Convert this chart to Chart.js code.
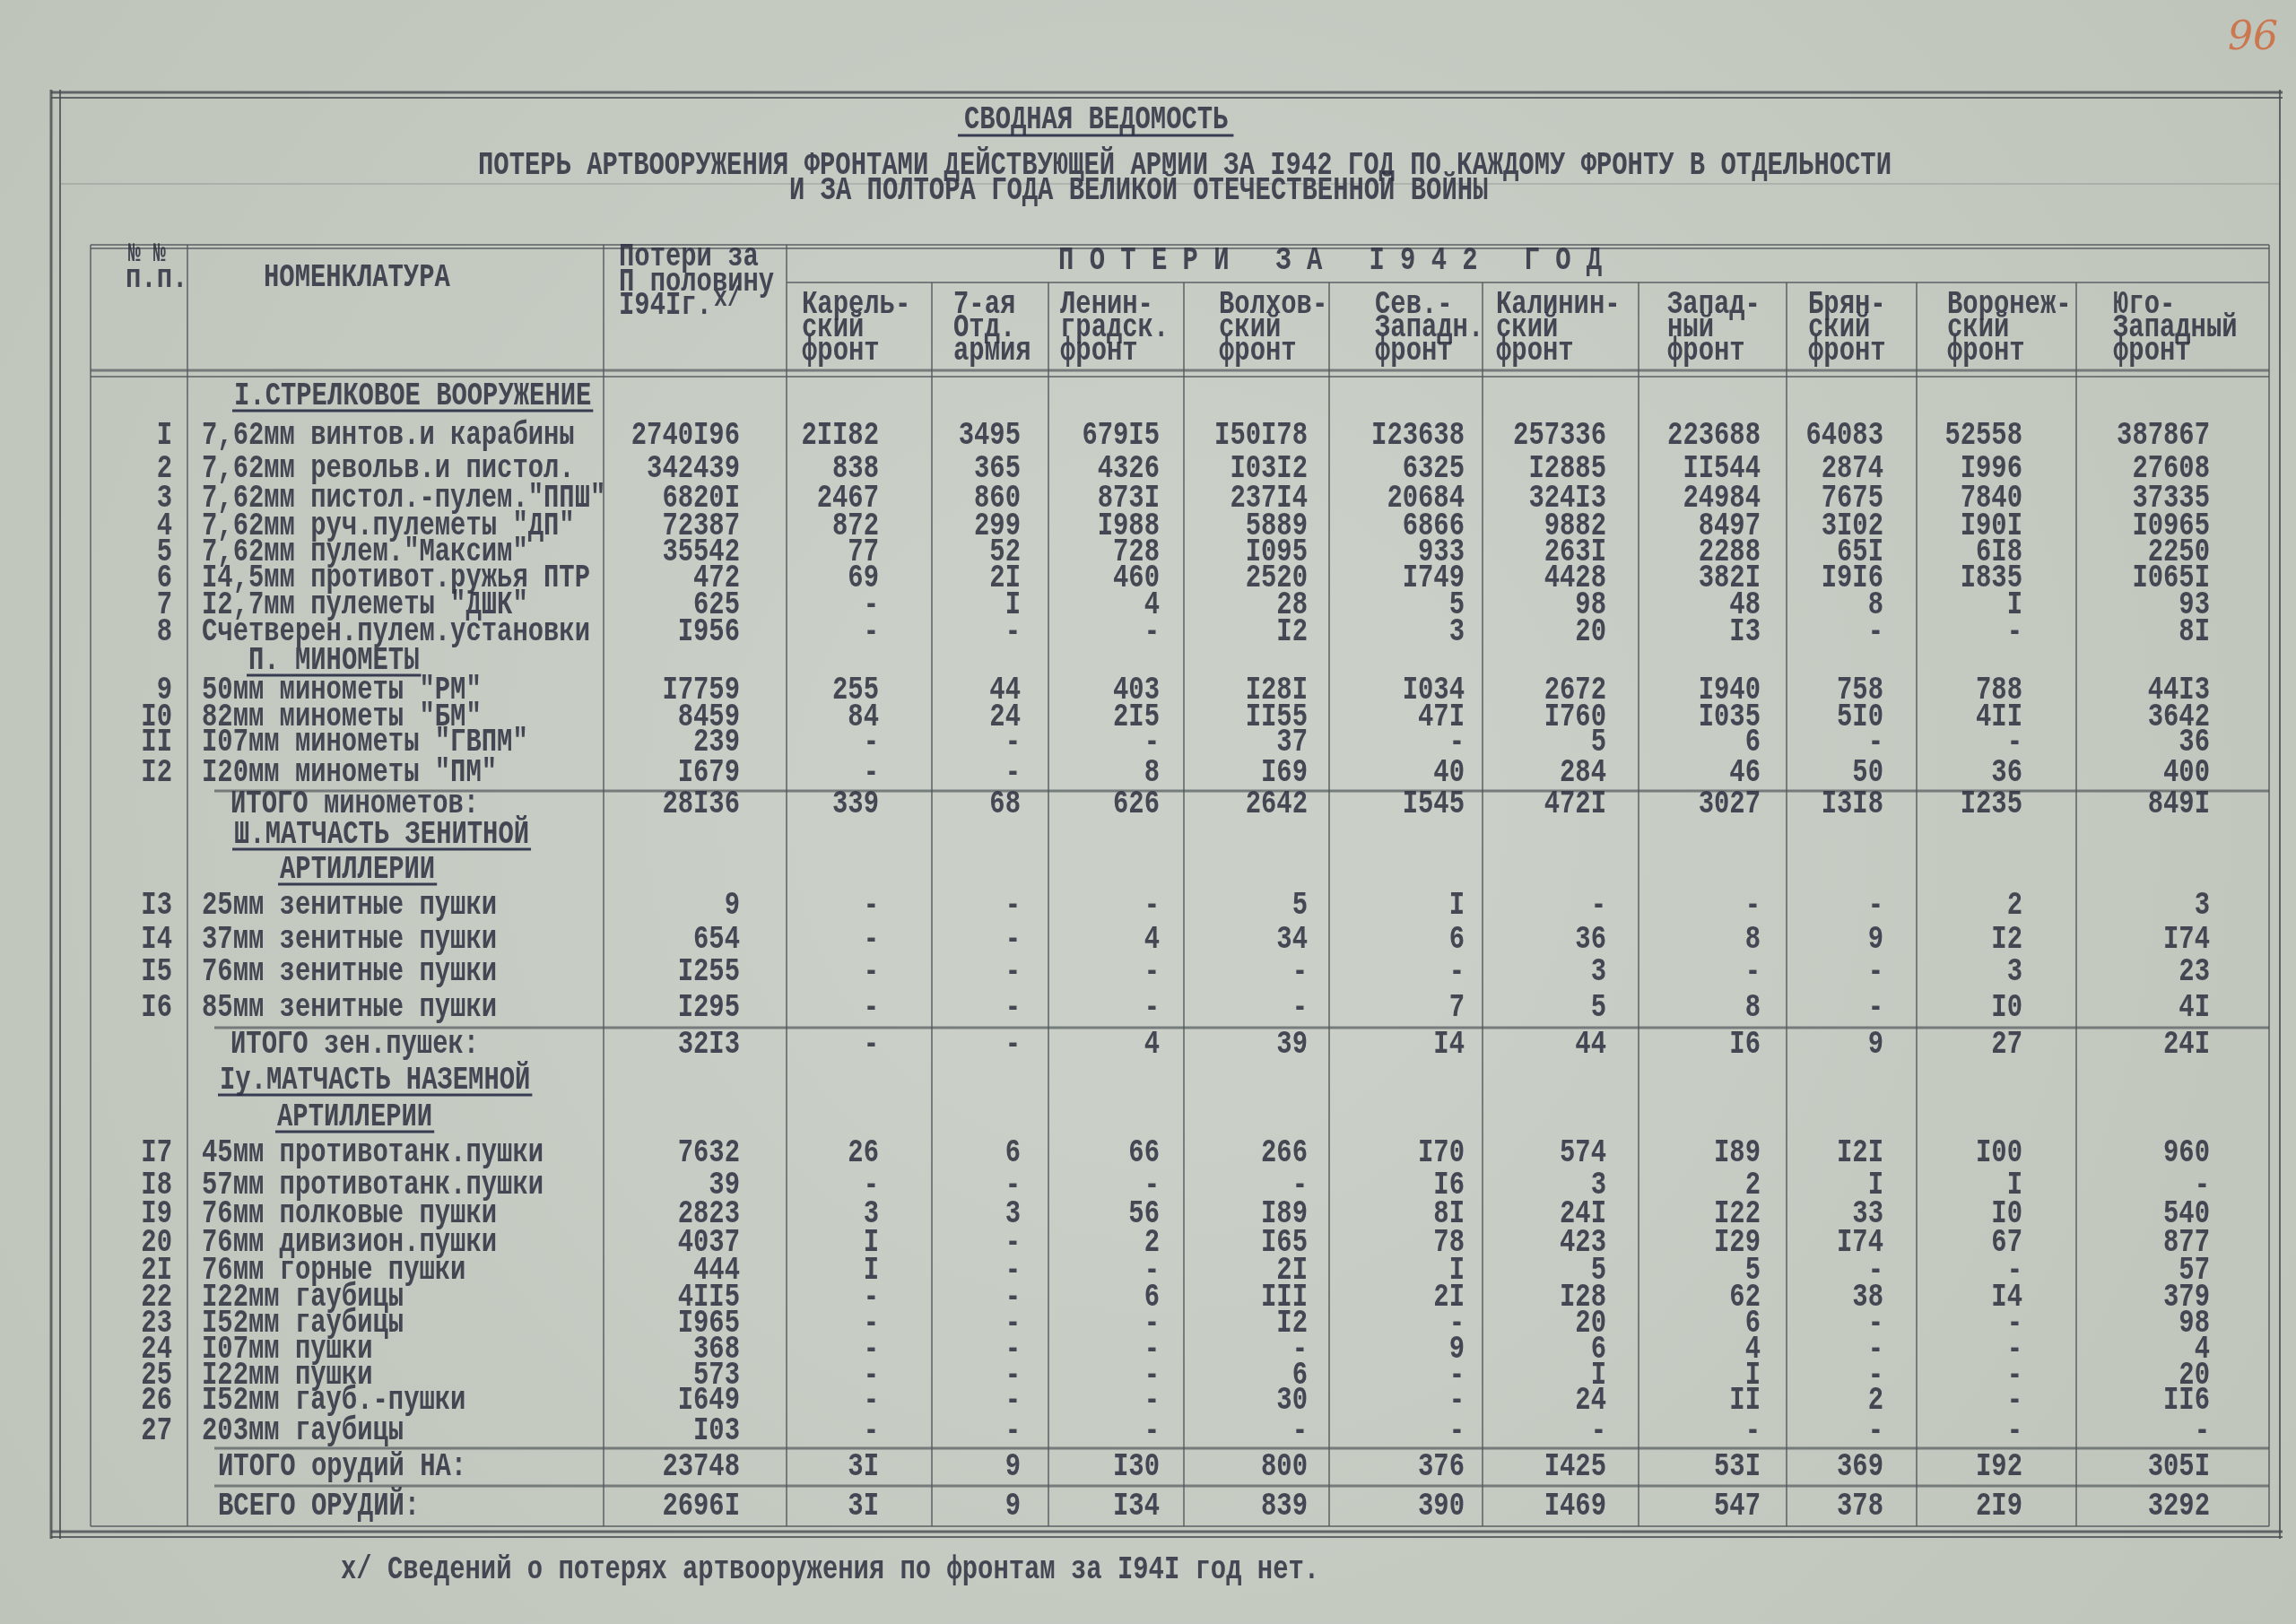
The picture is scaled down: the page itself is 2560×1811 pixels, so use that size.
<!DOCTYPE html>
<html lang="ru">
<head>
<meta charset="utf-8">
<title>Сводная ведомость потерь артвооружения за 1942 год</title>
<script src="https://cdn.jsdelivr.net/npm/chart.js@4.4.1/dist/chart.umd.min.js"></script>
<style>
  html, body { margin: 0; padding: 0; background: #c6cbc2; }
  canvas { display: block; }
</style>
</head>
<body>
<canvas id="sheet" width="2560" height="1811"></canvas>
<script>
// ---------- data ----------
const rowNo = ['1','2','3','4','5','6','7','8','9','10','11','12','',
  '13','14','15','16','',
  '17','18','19','20','21','22','23','24','25','26','27','',''];
const rowName = [
  '7,62мм винтов.и карабины', '7,62мм револьв.и пистол.', '7,62мм пистол.-пулем."ППШ"',
  '7,62мм руч.пулеметы "ДП"', '7,62мм пулем."Максим"', '14,5мм противот.ружья ПТР',
  '12,7мм пулеметы "ДШК"', 'Счетверен.пулем.установки',
  '50мм минометы "РМ"', '82мм минометы "БМ"', '107мм минометы "ГВПМ"', '120мм минометы "ПМ"',
  'ИТОГО минометов:',
  '25мм зенитные пушки', '37мм зенитные пушки', '76мм зенитные пушки', '85мм зенитные пушки',
  'ИТОГО зен.пушек:',
  '45мм противотанк.пушки', '57мм противотанк.пушки', '76мм полковые пушки', '76мм дивизион.пушки',
  '76мм горные пушки', '122мм гаубицы', '152мм гаубицы', '107мм пушки', '122мм пушки',
  '152мм гауб.-пушки', '203мм гаубицы',
  'ИТОГО орудий НА:', 'ВСЕГО ОРУДИЙ:'];
const sectionTitles = [['I.СТРЕЛКОВОЕ ВООРУЖЕНИЕ'], ['П. МИНОМЕТЫ'],
  ['Ш.МАТЧАСТЬ ЗЕНИТНОЙ', 'АРТИЛЛЕРИИ'], ['Iу.МАТЧАСТЬ НАЗЕМНОЙ', 'АРТИЛЛЕРИИ']];
const sectionStart = [0, 8, 13, 18];
const fronts = [['Карель-','ский','фронт'], ['7-ая','Отд.','армия'], ['Ленин-','градск.','фронт'],
  ['Волхов-','ский','фронт'], ['Сев.-','Западн.','фронт'], ['Калинин-','ский','фронт'],
  ['Запад-','ный','фронт'], ['Брян-','ский','фронт'], ['Воронеж-','ский','фронт'],
  ['Юго-','Западный','фронт']];

const loss1941 = [2740196, 342439, 68201, 72387, 35542, 472, 625, 1956, 17759, 8459, 239, 1679, 28136,
  9, 654, 1255, 1295, 3213, 7632, 39, 2823, 4037, 444, 4115, 1965, 368, 573, 1649, 103, 23748, 26961];
const karelian = [21182, 838, 2467, 872, 77, 69, null, null, 255, 84, null, null, 339,
  null, null, null, null, null, 26, null, 3, 1, 1, null, null, null, null, null, null, 31, 31];
const army7 = [3495, 365, 860, 299, 52, 21, 1, null, 44, 24, null, null, 68,
  null, null, null, null, null, 6, null, 3, null, null, null, null, null, null, null, null, 9, 9];
const leningrad = [67915, 4326, 8731, 1988, 728, 460, 4, null, 403, 215, null, 8, 626,
  null, 4, null, null, 4, 66, null, 56, 2, null, 6, null, null, null, null, null, 130, 134];
const volkhov = [150178, 10312, 23714, 5889, 1095, 2520, 28, 12, 1281, 1155, 37, 169, 2642,
  5, 34, null, null, 39, 266, null, 189, 165, 21, 111, 12, null, 6, 30, null, 800, 839];
const northWest = [123638, 6325, 20684, 6866, 933, 1749, 5, 3, 1034, 471, null, 40, 1545,
  1, 6, null, 7, 14, 170, 16, 81, 78, 1, 21, null, 9, null, null, null, 376, 390];
const kalinin = [257336, 12885, 32413, 9882, 2631, 4428, 98, 20, 2672, 1760, 5, 284, 4721,
  null, 36, 3, 5, 44, 574, 3, 241, 423, 5, 128, 20, 6, 1, 24, null, 1425, 1469];
const western = [223688, 11544, 24984, 8497, 2288, 3821, 48, 13, 1940, 1035, 6, 46, 3027,
  null, 8, null, 8, 16, 189, 2, 122, 129, 5, 62, 6, 4, 1, 11, null, 531, 547];
const bryansk = [64083, 2874, 7675, 3102, 651, 1916, 8, null, 758, 510, null, 50, 1318,
  null, 9, null, null, 9, 121, 1, 33, 174, null, 38, null, null, null, 2, null, 369, 378];
const voronezh = [52558, 1996, 7840, 1901, 618, 1835, 1, null, 788, 411, null, 36, 1235,
  2, 12, 3, 10, 27, 100, 1, 10, 67, null, 14, null, null, null, null, null, 192, 219];
const southWest = [387867, 27608, 37335, 10965, 2250, 10651, 93, 81, 4413, 3642, 36, 400, 8491,
  3, 174, 23, 41, 241, 960, null, 540, 877, 57, 379, 98, 4, 20, 116, null, 3051, 3292];

const columns = [loss1941, karelian, army7, leningrad, volkhov, northWest, kalinin, western, bryansk, voronezh, southWest];

// ---------- sheet layout ----------
const INK = 'rgba(46,49,64,0.86)';
const RULE = 'rgba(82,90,92,0.7)';
const colW = [108, 464, 204, 162, 130, 151, 162, 171, 174, 165, 145, 178, 215];
const numPad = [52, 59, 31, 27, 24, 20, 36, 29, 37, 60, 66];
const headH = 145;
const lineH = [48, 39, 35, 32, 30, 28, 30, 29, 31, 34, 31, 29, 28, 40, 30, 38, 40, 40, 36, 35, 45,
  38, 42, 40, 40, 32, 32, 32, 30, 29, 29, 30, 28, 28, 39, 42, 45];
const secIndent = [[52], [68], [52, 103], [36, 100]];
const totalIndent = [48, 48, 34, 34];
const frontIndent = [17, 24, 13, 39, 51, 15, 32, 24, 34, 41];

const colEdge = [0];
colW.forEach(w => colEdge.push(colEdge[colEdge.length - 1] + w));
const tableW = colEdge[colEdge.length - 1];

const lines = [];
rowNo.forEach((no, r) => {
  const si = sectionStart.indexOf(r);
  if (si >= 0) sectionTitles[si].forEach((t, k) => lines.push({ kind: 'sec', text: t, indent: secIndent[si][k] }));
  lines.push({ kind: 'row', r });
});
let acc = headH;
lines.forEach((ln, i) => { ln.top = acc; ln.mid = acc + lineH[i] / 2; acc += lineH[i]; });
const tableH = acc;
const rowMid = [], rowTop = [];
lines.forEach(ln => { if (ln.kind === 'row') { rowMid[ln.r] = ln.mid; rowTop[ln.r] = ln.top; } });

// typewriter text: tall narrow face, "1" typed as "I"
const FS = 37;
const SX = 0.78;
function tw(s) { return String(s).replace(/1/g, 'I'); }
function type(ctx, text, x, y, align, size, color) {
  const t = tw(text);
  ctx.save();
  ctx.translate(x, y);
  ctx.scale(SX, 1);
  ctx.font = 'bold ' + (size || FS) + 'px "Liberation Mono", monospace';
  ctx.textAlign = align || 'left';
  ctx.textBaseline = 'middle';
  ctx.fillStyle = color || INK;
  ctx.fillText(t, 0, 0);
  const w = ctx.measureText(t).width * SX;
  ctx.restore();
  return w;
}
function rule(ctx, x0, y0, x1, y1, w, color) {
  ctx.save();
  ctx.strokeStyle = color || RULE;
  ctx.lineWidth = w || 2;
  ctx.beginPath();
  ctx.moveTo(x0, y0);
  ctx.lineTo(x1, y1);
  ctx.stroke();
  ctx.restore();
}

const sheetPlugin = {
  id: 'sheet',
  beforeDraw(chart) {
    const { ctx, width, height } = chart;
    const g = ctx.createRadialGradient(width / 2, height / 2, 300, width / 2, height / 2, 1700);
    g.addColorStop(0, '#cacfc7');
    g.addColorStop(1, '#bec3ba');
    ctx.fillStyle = g;
    ctx.fillRect(0, 0, width, height);

    // outer frame
    const FR = 'rgba(70,76,80,0.8)';
    rule(ctx, 57, 103, 2545, 103, 3, FR);
    rule(ctx, 57, 109, 2545, 109, 2, FR);
    rule(ctx, 57, 100, 57, 1716, 3, FR);
    rule(ctx, 67, 100, 67, 1716, 2, FR);
    rule(ctx, 2542, 100, 2542, 1716, 2, FR);
    rule(ctx, 57, 1708, 2545, 1708, 3, FR);
    rule(ctx, 57, 1714, 2545, 1714, 2, FR);
    rule(ctx, 67, 205, 2542, 205, 2, 'rgba(90,98,100,0.22)');

    // title
    const w0 = type(ctx, 'СВОДНАЯ ВЕДОМОСТЬ', 1075, 134, 'left');
    rule(ctx, 1068, 151, 1075 + w0 + 6, 151, 3, 'rgba(40,44,70,0.9)');
    type(ctx, 'ПОТЕРЬ АРТВООРУЖЕНИЯ ФРОНТАМИ ДЕЙСТВУЮЩЕЙ АРМИИ ЗА 1942 ГОД ПО КАЖДОМУ ФРОНТУ В ОТДЕЛЬНОСТИ', 533, 185, 'left');
    type(ctx, 'И ЗА ПОЛТОРА ГОДА ВЕЛИКОЙ ОТЕЧЕСТВЕННОЙ ВОЙНЫ', 880, 213, 'left');

    // footnote and sheet number
    type(ctx, 'x/ Сведений о потерях артвооружения по фронтам за 1941 год нет.', 380, 1751, 'left');
    ctx.save();
    ctx.font = 'italic 44px "DejaVu Serif", serif';
    ctx.fillStyle = 'rgba(205,105,60,0.85)';
    ctx.textAlign = 'center';
    ctx.textBaseline = 'middle';
    ctx.fillText('96', 2512, 44);
    ctx.restore();
  },
  afterDatasetsDraw(chart) {
    const { ctx } = chart;
    const xs = chart.scales.x, ys = chart.scales.y;
    const px = v => xs.getPixelForValue(v);
    const py = v => ys.getPixelForValue(v);

    // table rules
    rule(ctx, px(0), py(0), px(tableW), py(0), 2);
    rule(ctx, px(0), py(4), px(tableW), py(4), 2);
    rule(ctx, px(colEdge[3]), py(42), px(tableW), py(42), 2);
    rule(ctx, px(0), py(140), px(tableW), py(140), 3);
    rule(ctx, px(0), py(147), px(tableW), py(147), 2);
    rule(ctx, px(0), py(tableH), px(tableW), py(tableH), 2);
    colEdge.forEach((e, i) => {
      const top = (i >= 4 && i < colEdge.length - 1) ? 42 : 0;
      rule(ctx, px(e), py(top), px(e), py(tableH), 2);
    });
    rowNo.forEach((no, r) => {
      if (no === '') rule(ctx, px(colEdge[1] + 30), py(rowTop[r]), px(tableW), py(rowTop[r]), 3);
    });

    // header
    type(ctx, '№ №', px(42), py(10), 'left', 30);
    type(ctx, 'п.п.', px(39), py(38), 'left');
    type(ctx, 'НОМЕНКЛАТУРА', px(193), py(37), 'left');
    type(ctx, 'Потери за', px(colEdge[2] + 17), py(14), 'left');
    type(ctx, 'П половину', px(colEdge[2] + 17), py(42), 'left');
    const wy = type(ctx, '1941г.', px(colEdge[2] + 17), py(68), 'left');
    type(ctx, 'x/', px(colEdge[2] + 17) + wy + 2, py(60), 'left', 32);
    type(ctx, 'П О Т Е Р И   З А   1 9 4 2   Г О Д', px(1079), py(18), 'left');
    fronts.forEach((f, i) => {
      f.forEach((t, k) => type(ctx, t, px(colEdge[i + 3] + frontIndent[i]), py(67 + 26 * k), 'left'));
    });

    // section headings and row labels
    lines.forEach(ln => {
      if (ln.kind === 'sec') {
        const x0 = px(colEdge[1] + ln.indent);
        const w = type(ctx, ln.text, x0, py(ln.mid));
        rule(ctx, x0 - 2, py(ln.mid) + 16, x0 + w + 2, py(ln.mid) + 16, 3, 'rgba(40,44,70,0.9)');
      }
    });
    let t = 0;
    rowNo.forEach((no, r) => {
      if (no) {
        type(ctx, no, px(colEdge[1] - 17), py(rowMid[r]), 'right');
        type(ctx, rowName[r], px(colEdge[1] + 16), py(rowMid[r]), 'left');
      } else {
        type(ctx, rowName[r], px(colEdge[1] + totalIndent[t++]), py(rowMid[r]), 'left');
      }
    });

    // cell values at the points placed by the scales
    chart.data.datasets.forEach((ds, di) => {
      chart.getDatasetMeta(di).data.forEach((pt, i) => {
        const v = ds.data[i].v;
        type(ctx, v == null ? '-' : v, pt.x, pt.y, 'right');
      });
    });
  }
};

const datasets = columns.map((vals, c) => ({
  label: c === 0 ? 'Потери за II половину 1941г.' : fronts[c - 1].join(''),
  data: vals.map((v, r) => ({ x: colEdge[c + 3] - numPad[c], y: rowMid[r], v })),
  pointRadius: 0,
  pointHoverRadius: 0,
  showLine: false
}));

new Chart(document.getElementById('sheet').getContext('2d'), {
  type: 'scatter',
  data: { datasets },
  options: {
    responsive: false,
    animation: false,
    events: [],
    layout: { padding: { left: 101, right: 2560 - 101 - tableW, top: 273, bottom: 1811 - 273 - tableH } },
    plugins: { legend: { display: false }, tooltip: { enabled: false }, title: { display: false } },
    scales: {
      x: { type: 'linear', display: false, min: 0, max: tableW },
      y: { type: 'linear', display: false, min: 0, max: tableH, reverse: true }
    }
  },
  plugins: [sheetPlugin]
});
</script>
</body>
</html>
